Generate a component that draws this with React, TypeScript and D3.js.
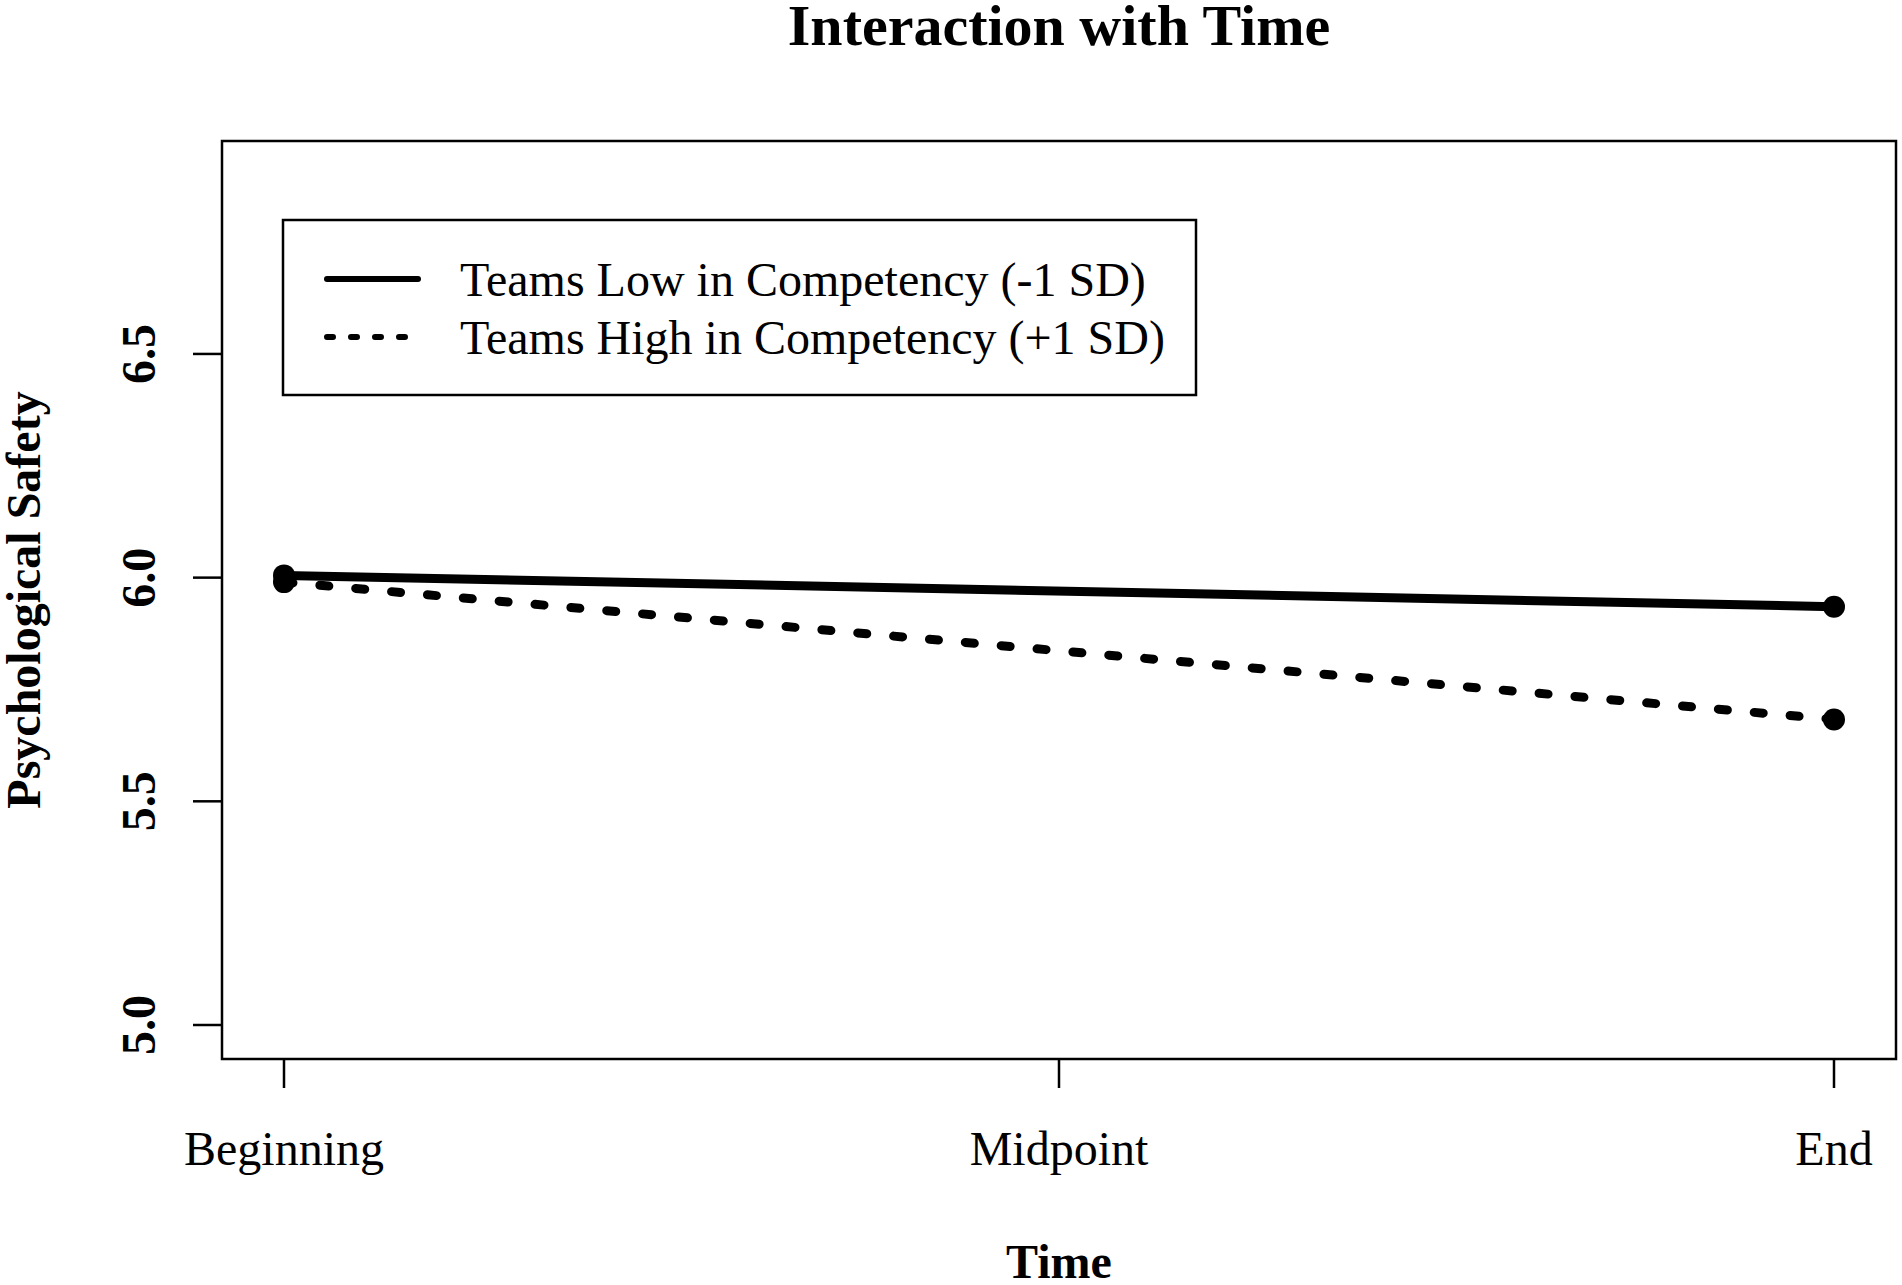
import React from "react";
import * as d3 from "d3";

const categories = ["Beginning", "Midpoint", "End"];
const lowValues: (number | null)[] = [6.005, null, 5.935];
const highValues: (number | null)[] = [5.99, null, 5.683];
const yTicks = [5.0, 5.5, 6.0, 6.5];
const yTickLabels = ["5.0", "5.5", "6.0", "6.5"];
const seriesNames = ["Teams Low in Competency (-1 SD)", "Teams High in Competency (+1 SD)"];
const title = "Interaction with Time";
const xTitle = "Time";
const yTitle = "Psychological Safety";

const W = 1902;
const H = 1285;
const box = { left: 222, right: 1896, top: 141, bottom: 1059 };
const FONT = "'Liberation Serif', 'Times New Roman', Times, serif";

export default function App() {
  const yMin = 5.0, yMax = 6.9;
  const yPad = (yMax - yMin) * 0.04;
  const x = d3.scaleLinear().domain([1 - 0.08, categories.length + 0.08]).range([box.left, box.right]);
  const y = d3.scaleLinear().domain([yMin - yPad, yMax + yPad]).range([box.bottom, box.top]);

  const toPts = (vals: (number | null)[]) =>
    vals.map((v, i) => ({ i: i + 1, v })).filter((d) => d.v !== null) as { i: number; v: number }[];

  const line = d3
    .line<{ i: number; v: number }>()
    .x((d) => x(d.i))
    .y((d) => y(d.v));

  const series = [
    { pts: toPts(lowValues), dash: undefined as string | undefined, legendDash: undefined as string | undefined },
    { pts: toPts(highValues), dash: "9 27", legendDash: "6 18" },
  ];

  const legend = { x: 283, y: 220, w: 913, h: 175 };
  const rowY = [279, 337];

  return (
    <svg
      width={W}
      height={H}
      style={{ position: "absolute", left: 0, top: 0, display: "block", background: "#fff" }}
      fontFamily={FONT}
    >
      <rect x={0} y={0} width={W} height={H} fill="#fff" />
      <text x={(box.left + box.right) / 2} y={45} textAnchor="middle" fontSize={58} fontWeight="bold">
        {title}
      </text>

      {/* plot box */}
      <rect
        x={box.left}
        y={box.top}
        width={box.right - box.left}
        height={box.bottom - box.top}
        fill="none"
        stroke="#000"
        strokeWidth={2.5}
      />

      {/* x axis */}
      {categories.map((c, i) => (
        <g key={c}>
          <line x1={x(i + 1)} x2={x(i + 1)} y1={box.bottom} y2={box.bottom + 29} stroke="#000" strokeWidth={2.5} />
          <text x={x(i + 1)} y={1165} textAnchor="middle" fontSize={48}>
            {c}
          </text>
        </g>
      ))}
      <text x={(box.left + box.right) / 2} y={1278} textAnchor="middle" fontSize={48} fontWeight="bold">
        {xTitle}
      </text>

      {/* y axis */}
      {yTicks.map((t, i) => (
        <g key={t}>
          <line x1={box.left} x2={box.left - 29} y1={y(t)} y2={y(t)} stroke="#000" strokeWidth={2.5} />
          <text
            transform={`translate(155,${y(t)}) rotate(-90)`}
            textAnchor="middle"
            fontSize={48}
            fontWeight="bold"
          >
            {yTickLabels[i]}
          </text>
        </g>
      ))}
      <text
        transform={`translate(40,${(box.top + box.bottom) / 2}) rotate(-90)`}
        textAnchor="middle"
        fontSize={48}
        fontWeight="bold"
      >
        {yTitle}
      </text>

      {/* series */}
      {series.map((s, k) => (
        <g key={k}>
          <path
            d={line(s.pts) || ""}
            fill="none"
            stroke="#000"
            strokeWidth={9}
            strokeDasharray={s.dash}
            strokeLinecap="round"
          />
          {s.pts.map((p) => (
            <circle key={p.i} cx={x(p.i)} cy={y(p.v)} r={11} fill="#000" />
          ))}
        </g>
      ))}

      {/* legend */}
      <rect x={legend.x} y={legend.y} width={legend.w} height={legend.h} fill="#fff" stroke="#000" strokeWidth={2.5} />
      {series.map((s, k) => (
        <g key={k}>
          <line
            x1={327}
            x2={418}
            y1={rowY[k]}
            y2={rowY[k]}
            stroke="#000"
            strokeWidth={6}
            strokeDasharray={s.legendDash}
            strokeLinecap="round"
          />
          <text x={460} y={rowY[k] + 16.5} fontSize={48}>
            {seriesNames[k]}
          </text>
        </g>
      ))}
    </svg>
  );
}
